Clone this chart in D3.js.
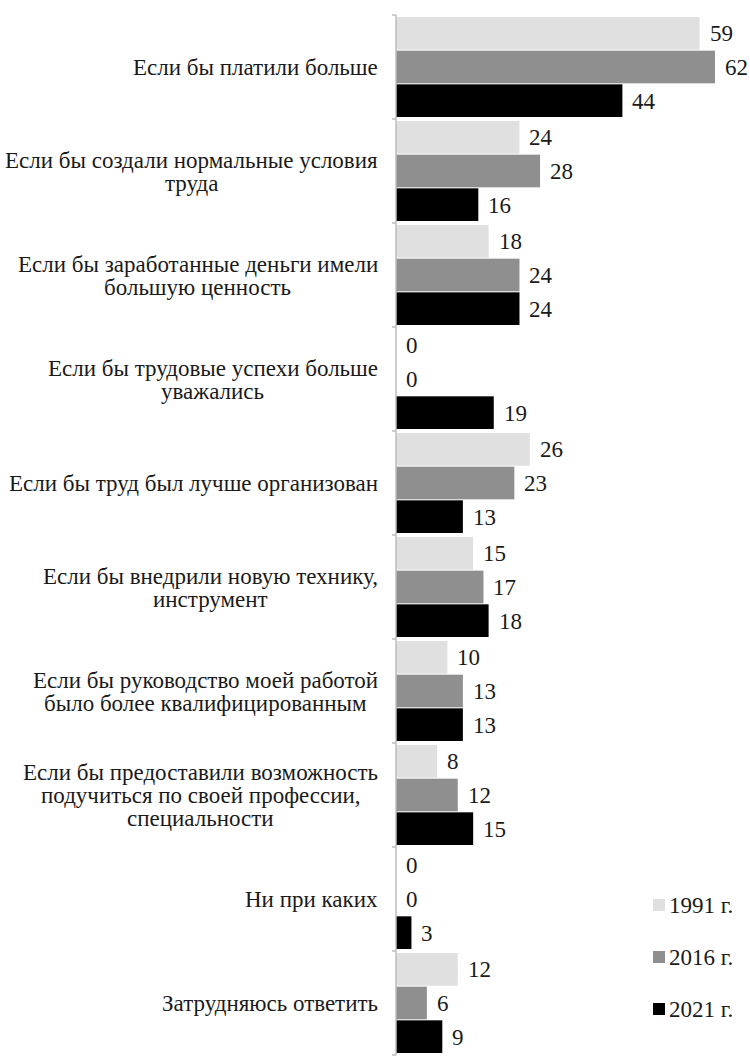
<!DOCTYPE html>
<html>
<head>
<meta charset="utf-8">
<script src="https://cdn.jsdelivr.net/npm/d3@7"></script>
<style>
  body { margin: 0; background: #fff; }
  svg { display: block; }
</style>
</head>
<body>
<svg width="750" height="1056"></svg>
<script>
// categories (each entry: lines of the wrapped label)
const categories = [
    ["Если бы платили больше"],
    ["Если бы создали нормальные условия", "труда"],
    ["Если бы заработанные деньги имели", "большую ценность"],
    ["Если бы трудовые успехи больше", "уважались"],
    ["Если бы труд был лучше организован"],
    ["Если бы внедрили новую технику,", "инструмент"],
    ["Если бы руководство моей работой", "было более квалифицированным"],
    ["Если бы предоставили возможность", "подучиться по своей профессии,", "специальности"],
    ["Ни при каких"],
    ["Затрудняюсь ответить"]
];
const seriesNames = ["1991 г.", "2016 г.", "2021 г."];
const values1991 = [59, 24, 18, 0, 26, 15, 10, 8, 0, 12];
const values2016 = [62, 28, 24, 0, 23, 17, 13, 12, 0, 6];
const values2021 = [44, 16, 24, 19, 13, 18, 13, 15, 3, 9];
const colors = ["#e0e0e0", "#8f8f8f", "#000000"];

const svg = d3.select("svg");
const FONT = "Liberation Serif";
const fontSize = 23;       // integer size and whole-pixel positions keep the serif font
const baseShift = 8;       // px, puts the text middle on the given y
const axisX = 396;
const R = Math.round;

// helper: text with the chart font
const addText = (sel) => sel.append("text")
    .attr("font-family", FONT)
    .attr("font-size", fontSize)
    .attr("fill", "#1a1a1a");

const x = d3.scaleLinear().domain([0, 62]).range([axisX, 715]);
const y = d3.scaleBand().domain(d3.range(categories.length)).range([15, 1055]).paddingInner(0);
const ySub = d3.scaleBand().domain(d3.range(3)).range([0, y.bandwidth()])
    .paddingInner(0.03).paddingOuter(0.06);

const allValues = [values1991, values2016, values2021];

// bars
allValues.forEach((vals, s) => {
    const g = svg.append("g");
    g.selectAll("rect")
        .data(vals)
        .join("rect")
        .attr("x", x(0))
        .attr("y", (d, i) => y(i) + ySub(s))
        .attr("width", d => x(d) - x(0))
        .attr("height", ySub.bandwidth())
        .attr("fill", colors[s]);
    vals.forEach((d, i) => {
        addText(g)
            .attr("x", R(x(d) + 10))
            .attr("y", R(y(i) + ySub(s) + ySub.bandwidth() / 2 + baseShift))
            .text(String(d));
    });
});

// axis with ticks at band boundaries
const axisG = svg.append("g");
axisG.append("line")
    .attr("x1", axisX).attr("x2", axisX)
    .attr("y1", y.range()[0]).attr("y2", y.range()[1])
    .attr("stroke", "#bdbdbd").attr("stroke-width", 1.5);
axisG.selectAll(".tick")
    .data(d3.range(categories.length + 1))
    .join("line")
    .attr("x1", axisX - 4).attr("x2", axisX)
    .attr("y1", i => y.range()[0] + i * y.step())
    .attr("y2", i => y.range()[0] + i * y.step())
    .attr("stroke", "#bdbdbd").attr("stroke-width", 1.5);

// category labels: block right-aligned, lines centred inside block
const lineH = 23;
categories.forEach((lines, i) => {
    const g = svg.append("g");
    const texts = lines.map((t, k) => addText(g)
        .attr("x", 0)
        .attr("y", R(y(i) + y.bandwidth() / 2 + (k - (lines.length - 1) / 2) * lineH + baseShift))
        .text(t));
    const widths = texts.map(t => t.node().getComputedTextLength());
    const w = d3.max(widths);
    const centre = 378 - w / 2;
    texts.forEach((t, k) => t.attr("x", R(centre - widths[k] / 2)));
});

// legend
const legend = svg.append("g");
seriesNames.forEach((name, s) => {
    const ly = 905 + s * 52;
    legend.append("rect")
        .attr("x", 653).attr("y", ly - 6)
        .attr("width", 12).attr("height", 12)
        .attr("fill", colors[s]);
    addText(legend)
        .attr("x", 669).attr("y", ly + baseShift)
        .text(name);
});
</script>
</body>
</html>
